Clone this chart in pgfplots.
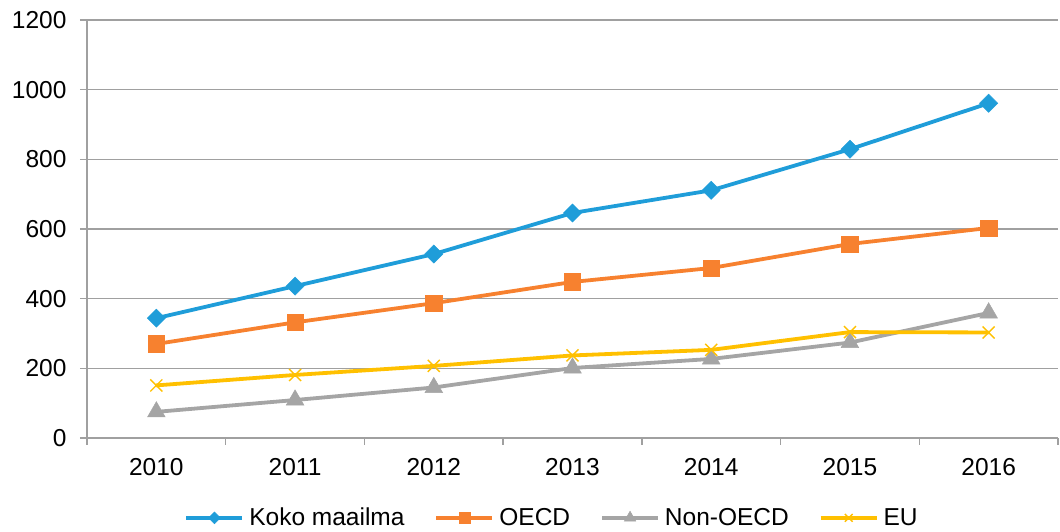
\documentclass[border=0pt]{standalone}
\usepackage{pgfplots}
\pgfplotsset{compat=1.18}
\usepackage{fontspec}
\setmainfont{Liberation Sans}
\definecolor{cblue}{HTML}{1F9DD9}
\definecolor{corange}{HTML}{F7812F}
\definecolor{cgray}{HTML}{A5A5A5}
\definecolor{cyellow}{HTML}{FFC000}
\definecolor{axgray}{HTML}{A0A0A0}
\begin{document}
\begin{tikzpicture}[x=1pt,y=1pt]
\useasboundingbox (0,0) rectangle (1060,532);
\begin{axis}[
  at={(87pt,94pt)}, anchor=south west,
  scale only axis, width=971pt, height=418pt,
  xmin=-0.5, xmax=6.5, ymin=0, ymax=1200,
  xtick={0,1,2,3,4,5,6},
  xticklabels={2010,2011,2012,2013,2014,2015,2016},
  minor xtick={-0.5,0.5,1.5,2.5,3.5,4.5,5.5,6.5},
  ytick={0,200,400,600,800,1000,1200},
  axis x line*=bottom, axis y line*=left,
  axis line style={draw=axgray, line width=1.3pt, -},
  tick align=outside,
  major tick length=7pt, minor tick length=7pt,
  major x tick style={draw=none},
  minor x tick style={draw=axgray, line width=1.3pt},
  major y tick style={draw=axgray, line width=1.3pt},
  ymajorgrids,
  grid style={draw=axgray, line width=1.3pt},
  ticklabel style={font=\fontsize{24.5}{29}\selectfont},
  /pgf/number format/assume math mode=true,
  /pgf/number format/1000 sep={},
  xticklabel style={yshift=-10pt},
  yticklabel style={xshift=-10pt},
  legend columns=4,
  legend style={at={(0.479,-0.191)}, anchor=center, draw=none,
    font=\fontsize{24.5}{29}\selectfont, column sep=3pt,
    /tikz/every even column/.append style={column sep=28pt}},
  legend image code/.code={%
    \draw[mark repeat=2,mark phase=2,#1,every mark/.append style={scale=0.65}] plot coordinates {(0pt,0pt) (28pt,0pt) (56pt,0pt)};},
  every axis plot/.append style={line width=3.8pt},
]
\addplot[color=cblue, mark=square*, mark size=6.4pt, mark options={solid, rotate=45, line width=0.5pt}] coordinates {
 (0,344) (1,436) (2,528) (3,646) (4,711) (5,829) (6,961)};
\addlegendentry{Koko maailma}
\addplot[color=corange, mark=square*, mark size=8.2pt, mark options={solid, line width=0.5pt}] coordinates {
 (0,270) (1,332) (2,387) (3,448) (4,488) (5,557) (6,603)};
\addlegendentry{OECD}
\addplot[color=cgray, mark=triangle*, mark size=10.2pt, mark options={solid, line width=0.5pt}] coordinates {
 (0,75) (1,109) (2,145) (3,201) (4,227) (5,274) (6,359)};
\addlegendentry{Non-OECD}
\addplot[color=cyellow, mark=x, mark size=8.5pt, mark options={solid, line width=1.4pt}] coordinates {
 (0,151) (1,181) (2,207) (3,237) (4,253) (5,304) (6,303)};
\addlegendentry{EU}
\end{axis}
\end{tikzpicture}
\end{document}
